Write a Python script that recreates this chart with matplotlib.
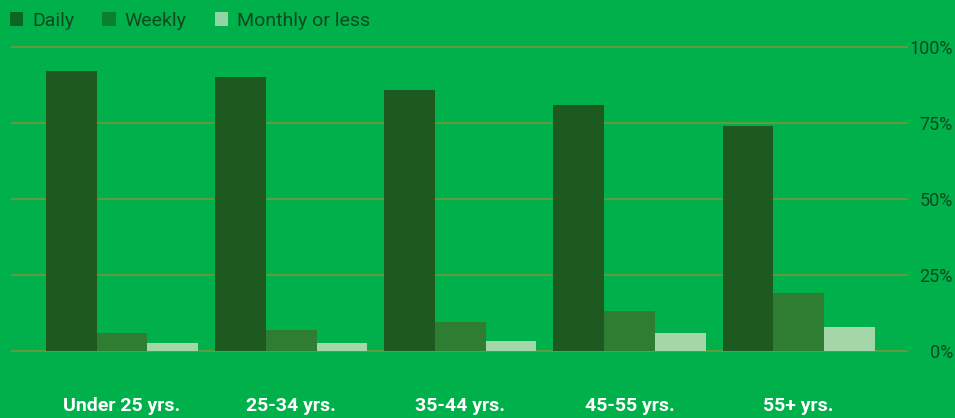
import matplotlib
matplotlib.use("Agg")
import matplotlib.pyplot as plt
import numpy as np
from matplotlib.patches import Patch

# data
categories = ["Under 25 yrs.", "25-34 yrs.", "35-44 yrs.", "45-55 yrs.", "55+ yrs."]
daily = [92, 90, 86, 81, 74]
weekly = [6, 7, 9.5, 13, 19]
monthly = [2.5, 2.5, 3.3, 6, 7.8]
series_names = ["Daily", "Weekly", "Monthly or less"]

bg = "#00b04a"
colors = ["#1e5a20", "#2e7d32", "#a5d6a7"]
legend_colors = ["#0b6523", "#0a7f2d", "#92d4a4"]
text_dark = "#0d4a20"

plt.rcParams["font.family"] = ["Roboto", "DejaVu Sans"]

fig = plt.figure(figsize=(9.55, 4.18), dpi=100, facecolor=bg)
ax = fig.add_axes([12 / 955, 1 - 351 / 418, (907 - 12) / 955, (351 - 47) / 418])
ax.set_facecolor(bg)

x = np.arange(len(categories))
w = 0.3
for i, vals in enumerate([daily, weekly, monthly]):
    ax.bar(x + (i - 1) * w, vals, width=w, color=colors[i], zorder=3)

ax.set_xlim(-0.65, 4.64)
ax.set_ylim(0, 100)
ax.set_yticks([0, 25, 50, 75, 100])
ax.set_yticklabels(["0%", "25%", "50%", "75%", "100%"])
ax.yaxis.tick_right()
ax.grid(axis="y", color="#6b9a3c", linewidth=1.3, zorder=0)
for gl in ax.get_ygridlines():
    gl.set_clip_on(False)
ax.tick_params(axis="y", length=0, pad=33, labelsize=13, labelcolor=text_dark)
for lab in ax.get_yticklabels():
    lab.set_horizontalalignment("right")

ax.set_xticks(x)
ax.set_xticklabels(categories, fontweight="bold", color="white", fontsize=14)
ax.tick_params(axis="x", length=0, pad=33)

for s in ax.spines.values():
    s.set_visible(False)

handles = [Patch(facecolor=c, edgecolor="none") for c in legend_colors]
fig.legend(handles, series_names, loc="upper left", bbox_to_anchor=(-0.002, 1.0),
           ncol=3, frameon=False, fontsize=14, labelcolor=text_dark,
           handlelength=0.7, handleheight=0.7, handletextpad=0.45,
           columnspacing=1.45, borderaxespad=0.2)

fig.savefig("out.png", dpi=100, facecolor=bg)
